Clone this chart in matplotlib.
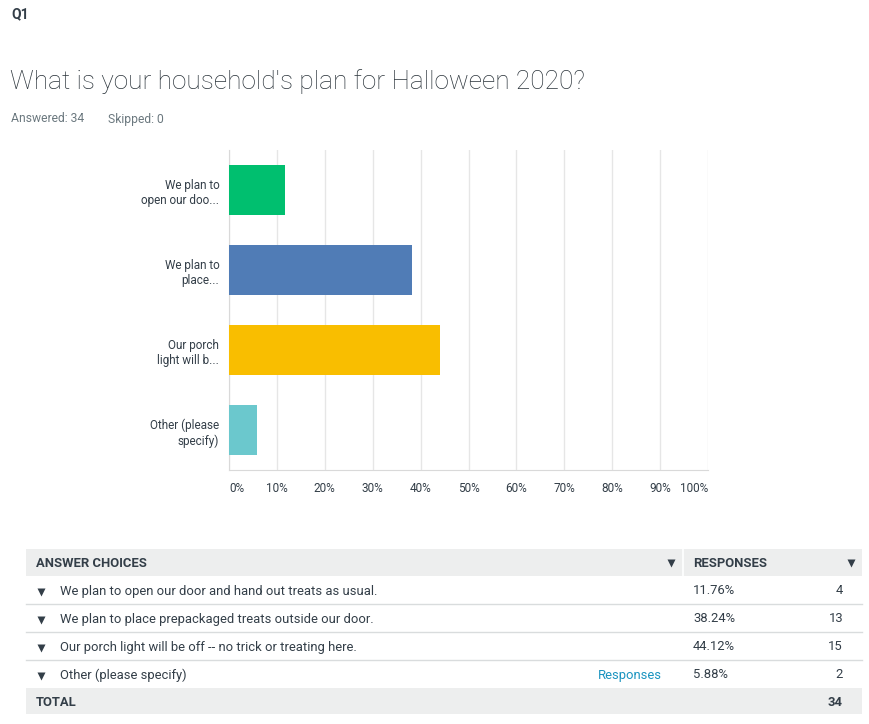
import matplotlib.pyplot as plt
from matplotlib.patches import Rectangle

plt.rcParams['font.family'] = ['Roboto', 'DejaVu Sans']

# data
short_labels = ["We plan to\nopen our doo...", "We plan to\nplace...",
                "Our porch\nlight will b...", "Other (please\nspecify)"]
choices = ["We plan to open our door and hand out treats as usual.",
           "We plan to place prepackaged treats outside our door.",
           "Our porch light will be off -- no trick or treating here.",
           "Other (please specify)"]
percents = [11.76, 38.24, 44.12, 5.88]
counts = [4, 13, 15, 2]
colors = ["#00bf6f", "#507cb6", "#f9be00", "#6bc8cd"]
answered = 34
skipped = 0

W, H = 869, 724
fig = plt.figure(figsize=(W / 100, H / 100), dpi=100)

# overlay in pixel coords for header texts and table
ov = fig.add_axes([0, 0, 1, 1])
ov.set_xlim(0, W)
ov.set_ylim(H, 0)
ov.axis('off')

ov.text(11, 14, "Q1", fontsize=10, fontweight='bold', color='#333e48', va='center')
ov.text(10, 82, "What is your household's plan for Halloween 2020?", fontsize=18.9,
        fontweight='light', color='#2b343b', va='center')
ov.text(11, 119, f"Answered: {answered}", fontsize=8.7, color='#6b787f', va='center')
ov.text(108, 119, f"Skipped: {skipped}", fontsize=8.7, color='#6b787f', va='center')

# bar chart
ax = fig.add_axes([229 / W, 1 - 470 / H, 479 / W, 320 / H])
ypos = range(len(percents))
ax.barh(ypos, percents, height=0.625, color=colors, zorder=3)
ax.set_xlim(0, 100)
ax.set_ylim(len(percents) - 0.5, -0.5)
ax.set_xticks(range(0, 101, 10))
ax.set_xticklabels([f"{v}%" for v in range(0, 101, 10)])
ax.set_yticks(list(ypos))
ax.set_yticklabels(short_labels, ha='right', linespacing=1.25)
ax.grid(axis='x', color='#e6e6e6', linewidth=1, zorder=0)
ax.tick_params(axis='both', length=0, labelsize=8.5, colors='#333e48')
ax.tick_params(axis='x', pad=9)
ax.tick_params(axis='y', pad=7)
xt = ax.get_xticklabels()
xt[0].set_ha('left')
xt[-1].set_ha('right')
for s in ['top', 'right']:
    ax.spines[s].set_visible(False)
ax.spines['left'].set_color('#d9d9d9')
ax.spines['bottom'].set_color('#d9d9d9')

# table
tl, tr = 26, 862
divx = 683
hdr_top, hdr_bot = 549, 576
row_h = 28
gray = '#edeeee'
txt = '#333e48'
fs = 9.4

ov.add_patch(Rectangle((tl, hdr_top), tr - tl, hdr_bot - hdr_top, color=gray, lw=0))
ov.plot([divx, divx], [hdr_top, hdr_bot], color='white', lw=1.2)
ov.text(36, (hdr_top + hdr_bot) / 2 + 1, "ANSWER CHOICES", fontsize=fs, fontweight='bold',
        color=txt, va='center')
ov.text(693, (hdr_top + hdr_bot) / 2 + 1, "RESPONSES", fontsize=fs, fontweight='bold',
        color=txt, va='center')
ov.plot([671, 851], [(hdr_top + hdr_bot) / 2] * 2, ls='none', marker='v', ms=5.5,
        color=txt, mec='none')

for i, (c, p, n) in enumerate(zip(choices, percents, counts)):
    y0 = hdr_bot + i * row_h
    yc = y0 + row_h / 2 + 1
    ov.plot(41, yc + 1, marker='v', ms=5.5, color=txt, mec='none')
    ov.text(60, yc, c, fontsize=fs, color=txt, va='center')
    ov.text(693, yc, f"{p:.2f}%", fontsize=fs, color=txt, va='center')
    ov.text(843, yc, str(n), fontsize=fs, color=txt, va='center', ha='right')
    if c.startswith("Other"):
        ov.text(662, yc, "Responses", fontsize=fs, color='#1a94c0', va='center', ha='right')
    if i < len(choices) - 1:
        ov.plot([tl, tr], [y0 + row_h, y0 + row_h], color='#d9dcdd', lw=1)

tot_top = hdr_bot + len(choices) * row_h
ov.add_patch(Rectangle((tl, tot_top), tr - tl, 26, color=gray, lw=0))
ov.text(36, tot_top + 14, "TOTAL", fontsize=fs, fontweight='bold', color=txt, va='center')
ov.text(843, tot_top + 14, str(sum(counts)), fontsize=fs, fontweight='bold', color=txt,
        va='center', ha='right')

fig.savefig("out.png", dpi=100)
